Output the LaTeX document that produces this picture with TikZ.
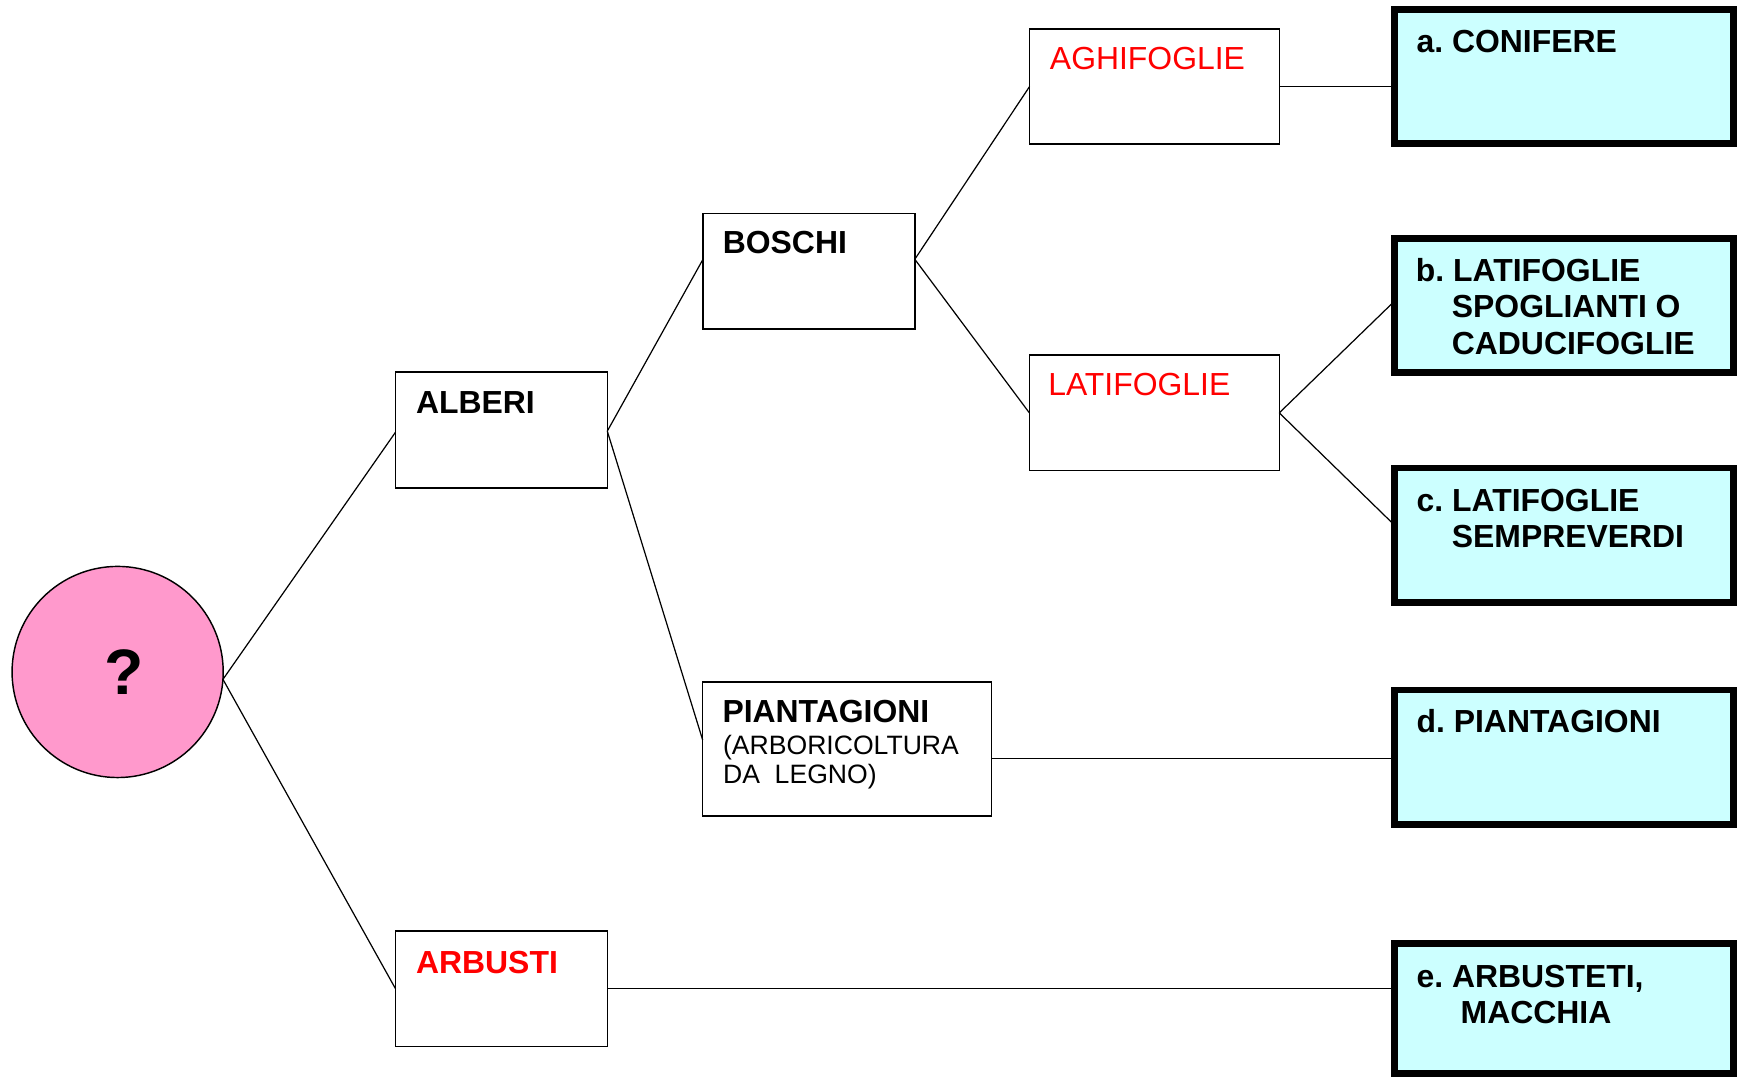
\documentclass[tikz,border=0pt]{standalone}
\usepackage{fontspec}
\setmainfont{Liberation Sans}
\frenchspacing
\usetikzlibrary{calc}
\definecolor{boxcyan}{HTML}{CCFFFF}
\definecolor{rootpink}{HTML}{FF99CC}
\definecolor{labelred}{HTML}{FF0000}
\tikzset{
  plainbox/.style={draw, line width=0.65pt, fill=white, inner sep=0pt, outer sep=0pt, anchor=north west},
  endbox/.style={draw, line width=3pt, fill=boxcyan, inner sep=0pt, outer sep=0pt, anchor=north west,
                 minimum width=153pt, minimum height=60.6pt},
  link/.style={line width=0.55pt},
  lbl/.style={inner sep=0pt, outer sep=0pt, anchor=base west, font=\fontsize{14.4}{16.5}\selectfont\bfseries},
  redlbl/.style={inner sep=0pt, outer sep=0pt, anchor=base west, font=\fontsize{14.4}{16.5}\selectfont, text=labelred},
  sublbl/.style={inner sep=0pt, outer sep=0pt, anchor=base west, font=\fontsize{12}{13.35}\selectfont},
}
\begin{document}
\begin{tikzpicture}[x=0.5pt, y=-0.5pt]
\useasboundingbox (0,0) rectangle (1568,972);

% root of the classification
\node[draw, circle, line width=0.65pt, fill=rootpink, minimum size=95.3pt, inner sep=0pt, outer sep=0pt] (root) at (106.2,606.6) {};
\node[inner sep=0pt, anchor=base, font=\fontsize{29}{30}\selectfont\bfseries] (qm) at (111.6,626.5) {?};

% intermediate categories
\node[plainbox, minimum width=95.6pt, minimum height=52.2pt] (alb) at (357,336) {};
\node[plainbox, minimum width=95.6pt, minimum height=52.2pt] (arb) at (357,840.3) {};
\node[plainbox, minimum width=95.6pt, minimum height=52.1pt] (bos) at (634.6,192.9) {};
\node[plainbox, minimum width=130.45pt, minimum height=60.5pt] (pia) at (634.3,615.6) {};
\node[plainbox, minimum width=112.9pt, minimum height=51.9pt] (agh) at (929.4,26.2) {};
\node[plainbox, minimum width=112.8pt, minimum height=52.2pt] (lat) at (929.2,320.5) {};

% final classes
\node[endbox] (ca) at (1259,8.4) {};
\node[endbox] (cb) at (1259,215.3) {};
\node[endbox] (cc) at (1259,422.5) {};
\node[endbox] (cd) at (1259,623) {};
\node[endbox, minimum height=58.65pt] (ce) at (1259,851.7) {};

% connectors
\draw[link] (root.-4.4) -- ([yshift=-1pt]alb.west);
\draw[link] (root.-4.4) -- (arb.west);
\draw[link] ([yshift=-0.5pt]alb.east) -- ($(bos.north west)!0.395!(bos.south west)$);
\draw[link] ([yshift=-0.5pt]alb.east) -- ($(pia.north west)!0.433!(pia.south west)$);
\coordinate (bosout) at ($(bos.north east)!0.395!(bos.south east)$);
\draw[link] (bosout) -- (agh.west);
\draw[link] (bosout) -- (lat.west);
\draw[link] (agh.east) -- (agh.east -| ca.west);
\draw[link] (lat.east) -- ($(cb.north west)!0.465!(cb.south west)$);
\draw[link] (lat.east) -- ($(cc.north west)!0.427!(cc.south west)$);
\coordinate (piaout) at ($(pia.north east)!0.569!(pia.south east)$);
\draw[link] (piaout) -- (piaout -| cd.west);
\draw[link] (arb.east) -- (arb.east -| ce.west);

% labels of the intermediate boxes
\node[redlbl] (tagh) at (947.8,62.3) {AGHIFOGLIE};
\node[redlbl] (tlat) at (946.3,356.6) {LATIFOGLIE};
\node[lbl] (tbos) at (652.5,228.7) {BOSCHI};
\node[lbl] (talb) at (375.6,373.7) {ALBERI};
\node[lbl, text=labelred] (tarb) at (375.6,878.8) {ARBUSTI};
\node[lbl] (tpia) at (652.2,652) {PIANTAGIONI};
\node[sublbl] (tpiab) at (652.7,681) {\begin{tabular}[t]{@{}l@{}}(ARBORICOLTURA\\DA\ \ LEGNO)\end{tabular}};

% labels of the final classes
\node[lbl] (ta) at (1278.8,47.5) {a. CONIFERE};
\node[lbl] (tb) at (1278.1,254) {\begin{tabular}[t]{@{}l@{}}b. LATIFOGLIE\\\hspace{16.25pt}SPOGLIANTI O\\\hspace{16.25pt}CADUCIFOGLIE\end{tabular}};
\node[lbl] (tc) at (1278.8,461.6) {\begin{tabular}[t]{@{}l@{}}c. LATIFOGLIE\\\hspace{15.9pt}SEMPREVERDI\end{tabular}};
\node[lbl] (td) at (1278.8,661.2) {d. PIANTAGIONI};
\node[lbl] (te) at (1278.8,891.2) {\begin{tabular}[t]{@{}l@{}}e. ARBUSTETI,\\\hspace{19.9pt}MACCHIA\end{tabular}};
\end{tikzpicture}
\end{document}
